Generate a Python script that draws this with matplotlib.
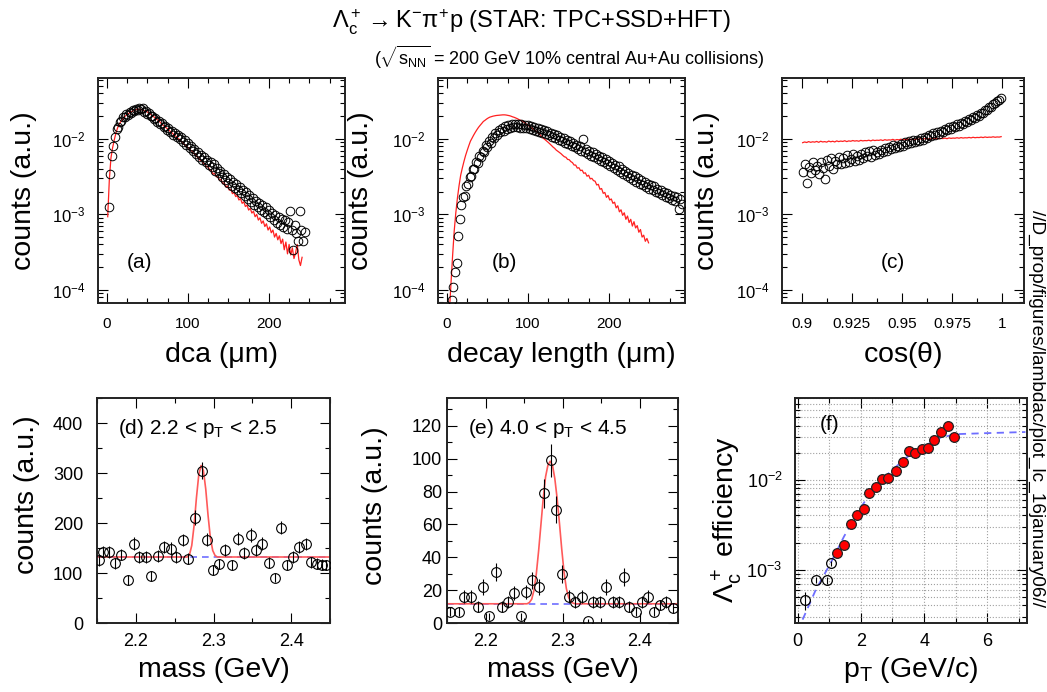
"""
Lambda_c -> K pi p (STAR HFT) 重绘：拓扑变量分布 (a-c)、不变质量峰 (d,e) 与效率 (f)。
"""
import matplotlib

matplotlib.use("Agg")
import matplotlib.pyplot as plt
import numpy as np
from matplotlib.ticker import (FuncFormatter, LogLocator, MultipleLocator,
                               NullFormatter)

# ---------------- 数据 ----------------
# (a) dca 分布, 2 um 一格, 单位 1e-3
DCA_X = np.arange(2, 246, 2)
DCA_DATA = [
    1.26, 3.4, 6.0, 8.1, 10.5, 13.6, 14.4, 16.8, 17.0, 19.4,
    19.6, 21.3, 20.9, 22.8, 22.3, 24.1, 23.3, 25.2, 24.4, 26.0,
    24.6, 25.3, 23.0, 23.6, 21.2, 21.9, 19.8, 20.2, 18.2, 18.9,
    16.9, 17.5, 15.7, 16.1, 14.4, 15.0, 13.2, 13.9, 12.4, 12.9,
    11.3, 12.1, 10.6, 11.3, 9.9, 10.5, 9.1, 9.6, 8.3, 8.9,
    7.6, 8.1, 6.9, 7.4, 6.3, 6.8, 5.8, 6.2, 5.3, 5.7,
    4.9, 5.3, 4.55, 4.95, 4.2, 4.6, 3.8, 4.15, 3.5, 3.75,
    3.15, 3.45, 2.85, 3.15, 2.6, 2.9, 2.4, 2.65, 2.25, 2.5,
    2.08, 2.32, 1.92, 2.12, 1.76, 1.96, 1.6, 1.8, 1.46, 1.64,
    1.35, 1.52, 1.25, 1.43, 1.16, 1.33, 1.06, 1.24, 1.0, 1.15,
    0.93, 1.05, 0.85, 0.98, 0.78, 0.92, 0.72, 0.86, 0.68, 0.83,
    0.64, 0.80, 1.12, 0.62, 0.34, 0.72, 0.56, 0.44, 1.1, 0.62,
    0.45, 0.58,
]
DCA_MC_X = np.arange(1, 243, 2)
DCA_MC = [
    0.93, 2.9, 5.6, 7.6, 9.6, 11.8, 13.8, 15.5, 16.8, 18.0,
    19.2, 20.2, 21.0, 21.8, 22.5, 23.1, 23.6, 24.1, 24.5, 24.8,
    24.7, 24.3, 23.8, 23.3, 23.0, 22.3, 21.5, 20.7, 19.9, 19.2,
    18.5, 17.7, 17.0, 16.0, 15.3, 14.7, 14.1, 13.5, 12.9, 12.3,
    11.9, 11.1, 10.9, 10.2, 10.0, 9.3, 9.1, 8.5, 8.3, 7.8,
    7.6, 7.1, 6.9, 6.4, 6.3, 5.8, 5.7, 5.2, 5.15, 4.75,
    4.7, 4.25, 4.3, 3.85, 3.85, 3.4, 3.5, 3.15, 3.15, 2.85,
    2.9, 2.55, 2.62, 2.3, 2.38, 2.1, 2.15, 1.88, 1.95, 1.72,
    1.78, 1.55, 1.62, 1.4, 1.47, 1.27, 1.33, 1.14, 1.2, 1.04,
    1.1, 0.93, 1.0, 0.84, 0.9, 0.76, 0.82, 0.69, 0.75, 0.62,
    0.68, 0.57, 0.62, 0.5, 0.56, 0.46, 0.52, 0.41, 0.47, 0.34,
    0.43, 0.3, 0.4, 0.29, 0.36, 0.26, 0.31, 0.4, 0.25, 0.21,
    0.27,
]

# (b) decay length 分布
DL_X = np.arange(6, 292, 2)
DL_DATA = [
    0.074, 0.11, 0.17, 0.23, 0.52, 0.88, 1.35, 1.7, 1.75, 2.4,
    2.5, 3.15, 3.2, 4.0, 4.0, 4.9, 4.8, 5.9, 5.7, 6.9,
    6.7, 8.3, 7.9, 9.4, 8.8, 10.7, 10.4, 12.1, 11.3, 13.0,
    12.3, 13.9, 12.8, 14.8, 13.6, 15.4, 14.1, 15.7, 14.2, 15.8,
    14.3, 15.8, 14.1, 15.6, 13.9, 15.4, 13.8, 15.2, 13.6, 14.8,
    13.2, 14.4, 12.8, 14.1, 12.5, 13.7, 12.0, 13.2, 11.6, 12.6,
    11.1, 12.1, 10.6, 11.6, 10.2, 11.1, 9.7, 10.6, 9.3, 10.2,
    8.9, 9.7, 8.5, 9.5, 8.1, 8.8, 7.7, 8.4, 7.3, 8.0,
    7.0, 10.1, 6.6, 7.3, 6.3, 6.9, 6.0, 6.6, 5.7, 6.3,
    5.4, 6.0, 5.15, 5.7, 4.9, 5.4, 4.65, 5.1, 4.4, 4.8,
    4.1, 4.55, 3.85, 4.35, 3.65, 4.0, 3.4, 3.8, 3.2, 3.55,
    3.0, 3.35, 2.85, 3.2, 2.7, 3.0, 2.55, 2.85, 2.45, 2.7,
    2.3, 2.55, 2.2, 2.45, 2.1, 2.35, 2.0, 2.2, 1.9, 2.1,
    1.8, 2.0, 1.72, 1.92, 1.65, 1.8, 1.55, 1.75, 1.5, 1.68,
    1.17, 1.58, 1.38,
]
DL_MC_X = np.arange(3, 251, 2)
DL_MC = [
    0.05, 0.12, 0.28, 0.6, 1.05, 1.65, 2.4, 3.3, 4.1, 5.0,
    6.0, 7.0, 8.1, 9.3, 10.2, 11.2, 12.2, 13.2, 14.2, 15.1,
    16.0, 17.0, 17.6, 18.3, 18.9, 19.4, 19.7, 20.0, 20.2, 20.4,
    20.5, 20.6, 20.7, 20.8, 20.8, 20.7, 20.5, 20.3, 20.0, 19.6,
    19.3, 18.9, 18.5, 18.0, 17.6, 17.2, 16.7, 16.1, 15.4, 14.9,
    14.4, 13.9, 13.4, 12.9, 12.5, 11.9, 11.3, 10.7, 10.2, 9.8,
    9.4, 9.0, 8.6, 8.2, 7.8, 7.5, 7.1, 6.85, 6.6, 6.35,
    6.05, 5.8, 5.7, 5.35, 5.3, 5.0, 4.85, 4.5, 4.5, 4.1,
    4.15, 3.8, 3.85, 3.5, 3.55, 3.2, 3.3, 2.95, 3.0, 2.8,
    2.75, 2.45, 2.5, 2.15, 2.2, 1.9, 1.95, 1.68, 1.78, 1.55,
    1.6, 1.4, 1.45, 1.22, 1.3, 1.08, 1.15, 0.97, 1.05, 0.86,
    0.95, 0.78, 0.86, 0.7, 0.8, 0.66, 0.71, 0.58, 0.63, 0.5,
    0.53, 0.44, 0.48, 0.42,
]

# (c) cos(theta) 分布, 0.001 一格
COS_X = np.arange(0.9005, 1.0, 0.001)
COS_DATA = [
    3.6, 4.6, 2.6, 4.2, 3.5, 4.9, 3.9, 4.4, 3.4, 5.0,
    4.1, 2.9, 5.2, 4.4, 5.6, 4.0, 5.1, 4.6, 5.8, 4.7,
    5.6, 4.8, 6.1, 5.0, 5.4, 6.3, 5.1, 5.9, 5.3, 6.4,
    5.6, 6.6, 6.0, 6.9, 5.8, 7.1, 6.2, 6.8, 6.4, 7.2,
    6.7, 7.6, 7.0, 7.9, 7.3, 8.3, 7.5, 8.1, 7.8, 8.6,
    8.1, 9.0, 8.5, 9.4, 8.8, 9.8, 9.0, 9.6, 9.4, 10.3,
    9.8, 10.7, 10.3, 11.2, 10.9, 11.8, 11.3, 12.3, 11.7, 12.9,
    12.2, 13.4, 13.0, 14.2, 13.6, 14.9, 14.3, 15.6, 15.0, 16.2,
    15.7, 17.2, 16.9, 18.3, 17.8, 19.5, 18.9, 20.7, 20.2, 21.8,
    22.0, 24.3, 24.1, 26.5, 26.8, 29.0, 29.8, 31.5, 33.0, 34.5,
]
COS_MC = [
    8.9, 9.1, 8.95, 9.2, 9.0, 9.15, 9.05, 9.25, 9.0, 9.3,
    9.1, 9.2, 9.05, 9.35, 9.15, 9.3, 9.1, 9.4, 9.2, 9.35,
    9.25, 9.45, 9.2, 9.4, 9.3, 9.5, 9.35, 9.45, 9.3, 9.55,
    9.4, 9.5, 9.45, 9.6, 9.4, 9.65, 9.5, 9.6, 9.55, 9.7,
    9.5, 9.75, 9.6, 9.7, 9.65, 9.85, 9.6, 9.8, 9.7, 9.9,
    9.75, 9.85, 9.8, 9.95, 9.75, 10.0, 9.85, 9.95, 9.9, 10.05,
    9.9, 10.1, 9.95, 10.05, 10.0, 10.15, 9.95, 10.2, 10.05, 10.15,
    10.1, 10.25, 10.05, 10.3, 10.15, 10.25, 10.2, 10.35, 10.2, 10.4,
    10.25, 10.35, 10.3, 10.45, 10.3, 10.5, 10.35, 10.45, 10.4, 10.55,
    10.4, 10.6, 10.45, 10.55, 10.5, 10.65, 10.5, 10.6, 10.55, 10.7,
]

# (d) 2.2 < pT < 2.5 不变质量
D_MASS = [2.1526, 2.158, 2.165, 2.173, 2.181, 2.190, 2.198, 2.204, 2.213, 2.220,
          2.229, 2.236, 2.245, 2.252, 2.261, 2.267, 2.276, 2.285, 2.292, 2.300,
          2.307, 2.315, 2.324, 2.332, 2.339, 2.348, 2.355, 2.363, 2.371, 2.379,
          2.387, 2.395, 2.403, 2.410, 2.419, 2.425, 2.433, 2.440, 2.445]
D_COUNTS = [126, 142, 142, 120, 137, 86, 159, 132, 132, 94,
            134, 152, 149, 132, 166, 129, 211, 305, 167, 106,
            118, 146, 116, 169, 140, 176, 146, 159, 121, 91,
            191, 116, 132, 152, 158, 122, 119, 117, 116]
D_ERR = [11.2, 11.9, 11.9, 11.0, 11.7, 9.3, 12.6, 11.5, 11.5, 9.7,
         11.6, 12.3, 12.2, 11.5, 12.9, 11.4, 14.5, 17.5, 12.9, 10.3,
         10.9, 12.1, 10.8, 13.0, 11.8, 13.3, 12.1, 12.6, 11.0, 9.5,
         13.8, 10.8, 11.5, 12.3, 12.6, 11.0, 10.9, 10.8, 10.8]
D_FIT_MASS = [2.15, 2.266, 2.269, 2.272, 2.275, 2.278, 2.281, 2.284, 2.287,
              2.290, 2.293, 2.296, 2.299, 2.302, 2.305, 2.45]
D_FIT = [132, 132, 136, 155, 195, 250, 296, 315, 305, 268, 215, 170, 145, 135, 132, 132]
D_BKG = 132

# (e) 4.0 < pT < 4.5 不变质量
E_MASS = [2.154, 2.165, 2.172, 2.181, 2.190, 2.197, 2.205, 2.214, 2.221, 2.229,
          2.237, 2.246, 2.253, 2.261, 2.269, 2.276, 2.285, 2.292, 2.300, 2.308,
          2.316, 2.325, 2.333, 2.340, 2.349, 2.357, 2.365, 2.373, 2.380, 2.387,
          2.395, 2.403, 2.411, 2.419, 2.427, 2.435, 2.444]
E_COUNTS = [7, 7, 16, 16, 10, 22, 4, 31, 10, 13,
            18.5, 4, 19, 26, 22, 79, 99, 69, 30, 16,
            13, 16, 1.4, 13, 13, 22, 13, 13, 28, 10,
            7, 13, 16, 7, 11, 13, 9]
E_ERR = [2.6, 2.6, 4.0, 4.0, 3.2, 4.7, 2.0, 5.6, 3.2, 3.6,
         4.3, 2.0, 4.4, 5.1, 4.7, 8.9, 9.9, 8.3, 5.5, 4.0,
         3.6, 4.0, 1.2, 3.6, 3.6, 4.7, 3.6, 3.6, 5.3, 3.2,
         2.6, 3.6, 4.0, 2.6, 3.3, 3.6, 3.0]
E_FIT_MASS = [2.15, 2.254, 2.257, 2.260, 2.263, 2.266, 2.269, 2.272, 2.275, 2.278,
              2.281, 2.284, 2.287, 2.290, 2.293, 2.296, 2.299, 2.302, 2.305, 2.308,
              2.311, 2.314, 2.317, 2.45]
E_FIT = [11.7, 11.7, 12.5, 14.5, 20, 30, 44, 60, 76, 89,
         96, 98.5, 96, 88, 76, 61, 45, 31, 21, 15.5,
         13, 12, 11.7, 11.7]
E_BKG = 11.7

# (f) 效率 vs pT
F_PT_OPEN = [0.24, 0.58, 0.92, 1.05]
F_EFF_OPEN = [4.6e-4, 7.7e-4, 7.6e-4, 1.17e-3]
F_ERR_OPEN = [1.0e-4, 0.6e-4, 0.6e-4, 0.8e-4]
F_PT = [1.26, 1.47, 1.68, 1.89, 2.11, 2.26, 2.49, 2.68, 2.87, 3.11,
        3.32, 3.51, 3.72, 3.92, 4.11, 4.32, 4.53, 4.74, 4.93]
F_EFF = [1.53e-3, 1.90e-3, 3.24e-3, 4.08e-3, 4.72e-3, 7.1e-3, 8.2e-3, 1.02e-2, 1.04e-2, 1.24e-2,
         1.57e-2, 2.06e-2, 1.98e-2, 2.19e-2, 2.25e-2, 2.74e-2, 3.39e-2, 3.92e-2, 2.95e-2]
F_FIT_PT = [0.16, 0.58, 1.05, 1.47, 1.89, 2.37, 2.89, 3.42, 3.95, 4.47, 5.0, 6.05, 7.2]
F_FIT = [2.78e-4, 6.0e-4, 1.19e-3, 2.34e-3, 4.27e-3, 7.76e-3, 1.19e-2, 1.74e-2,
         2.31e-2, 2.90e-2, 3.21e-2, 3.30e-2, 3.39e-2]

FONT = "Liberation Sans"
W, H = 1047, 692
RED = "#ff2020"
FIT_RED = "#ff5a5a"
BLUE = "#6e6eff"


def add_axes_px(fig, x0, y0, x1, y1):
    return fig.add_axes([x0 / W, 1 - y1 / H, (x1 - x0) / W, (y1 - y0) / H])


def root_style(ax, xsize, ysize, xpad, ypad):
    ax.tick_params(which="both", direction="in", top=True, right=True, width=0.8)
    ax.tick_params(which="major", length=7)
    ax.tick_params(which="minor", length=3.5)
    ax.tick_params(axis="x", labelsize=xsize, pad=xpad)
    ax.tick_params(axis="y", labelsize=ysize, pad=ypad)
    for s in ax.spines.values():
        s.set_linewidth(1.4)
        s.set_color("#222222")


def log_y(ax):
    ax.set_yscale("log")
    ax.yaxis.set_major_locator(LogLocator(base=10, numticks=10))
    ax.yaxis.set_minor_locator(LogLocator(base=10, subs=np.arange(2, 10), numticks=20))
    ax.yaxis.set_minor_formatter(NullFormatter())


def labels(ax, xlabel, ylabel, xy, yy, ylx):
    ax.set_xlabel(xlabel, fontsize=20.5)
    ax.set_ylabel(ylabel, fontsize=20.5)
    ax.xaxis.label.set_va("center")
    ax.yaxis.label.set_va("center")
    ax.xaxis.set_label_coords(0.5, xy)
    ax.yaxis.set_label_coords(ylx, yy)


def top_panel(ax, x, y, mc_x, mc_y, xlim, tag, tag_x):
    ax.plot(mc_x, np.asarray(mc_y) * 1e-3, color=RED, lw=0.9, zorder=2)
    ax.plot(x, np.asarray(y) * 1e-3, ls="none", marker="o", ms=6.2, mfc="none",
            mec="black", mew=0.7, zorder=3)
    log_y(ax)
    ax.set_xlim(*xlim)
    ax.set_ylim(6.7e-5, 0.064)
    root_style(ax, 11, 12, 10, 9)
    ax.text(tag_x, 0.178, tag, transform=ax.transAxes, fontsize=15,
            ha="center", va="center")


def mass_panel(ax, mass, counts, err, fit_m, fit_y, bkg, ylim, ymaj, ymin, tag, ypad):
    ax.axhline(bkg, color=BLUE, lw=1.2, ls=(0, (4, 3)), zorder=1)
    ax.plot(fit_m, fit_y, color=FIT_RED, lw=1.2, zorder=2)
    ax.errorbar(mass, counts, yerr=err, fmt="o", ms=7, mfc="none", mec="black",
                mew=0.8, ecolor="black", elinewidth=0.8, capsize=0, zorder=3)
    ax.set_xlim(2.15, 2.45)
    ax.set_ylim(*ylim)
    ax.xaxis.set_major_locator(MultipleLocator(0.1))
    ax.xaxis.set_minor_locator(MultipleLocator(0.05))
    ax.xaxis.set_major_formatter(FuncFormatter(lambda v, p: f"{v:g}"))
    ax.yaxis.set_major_locator(MultipleLocator(ymaj))
    ax.yaxis.set_minor_locator(MultipleLocator(ymin))
    root_style(ax, 13, 13, 7, ypad)
    ax.text(0.09, 0.865, tag, transform=ax.transAxes, fontsize=15, ha="left", va="center")


def main():
    plt.rcParams["font.family"] = [FONT, "DejaVu Sans"]
    plt.rcParams["mathtext.fontset"] = "custom"
    plt.rcParams["mathtext.rm"] = FONT
    plt.rcParams["mathtext.it"] = FONT
    plt.rcParams["mathtext.sf"] = FONT
    plt.rcParams["mathtext.bf"] = FONT + ":bold"

    fig = plt.figure(figsize=(W / 100, H / 100), dpi=100)

    # 顶部三幅：拓扑变量
    ax = add_axes_px(fig, 98, 78, 345, 303)
    top_panel(ax, DCA_X, DCA_DATA, DCA_MC_X, DCA_MC, (-11, 294), "(a)", 0.17)
    ax.xaxis.set_major_locator(MultipleLocator(100))
    ax.xaxis.set_minor_locator(MultipleLocator(25))
    labels(ax, "dca (μm)", "counts (a.u.)", -0.231, 0.5, -0.30)

    ax = add_axes_px(fig, 438, 78, 685, 303)
    top_panel(ax, DL_X, DL_DATA, DL_MC_X, DL_MC, (-11, 294), "(b)", 0.27)
    ax.xaxis.set_major_locator(MultipleLocator(100))
    ax.xaxis.set_minor_locator(MultipleLocator(25))
    labels(ax, "decay length (μm)", "counts (a.u.)", -0.231, 0.5, -0.31)

    ax = add_axes_px(fig, 782, 78, 1024, 303)
    top_panel(ax, COS_X, COS_DATA, COS_X, COS_MC, (0.8902, 1.0109), "(c)", 0.46)
    ax.xaxis.set_major_locator(MultipleLocator(0.025))
    ax.xaxis.set_minor_locator(MultipleLocator(0.0125))
    ax.xaxis.set_major_formatter(FuncFormatter(lambda v, p: f"{v:g}"))
    labels(ax, r"cos($\theta$)", "counts (a.u.)", -0.231, 0.5, -0.31)

    # 底部：不变质量与效率
    ax = add_axes_px(fig, 97, 398, 330, 623)
    mass_panel(ax, D_MASS, D_COUNTS, D_ERR, D_FIT_MASS, D_FIT, D_BKG, (0, 450), 100, 50,
               r"(d) 2.2 < p$_\mathrm{T}$ < 2.5", 10)
    labels(ax, "mass (GeV)", "counts (a.u.)", -0.21, 0.57, -0.30)

    ax = add_axes_px(fig, 447, 398, 678, 623)
    mass_panel(ax, E_MASS, E_COUNTS, E_ERR, E_FIT_MASS, E_FIT, E_BKG, (0, 137), 20, 10,
               r"(e) 4.0 < p$_\mathrm{T}$ < 4.5", 3.5)
    labels(ax, "mass (GeV)", "counts (a.u.)", -0.21, 0.52, -0.31)

    ax = add_axes_px(fig, 795, 398, 1027, 623)
    ax.set_axisbelow(True)
    ax.grid(True, which="both", ls=":", color="#a0a0a0", lw=0.8)
    ax.plot(F_FIT_PT, F_FIT, color=BLUE, lw=1.3, ls=(0, (4, 3)), zorder=1)
    ax.errorbar(F_PT_OPEN, F_EFF_OPEN, yerr=F_ERR_OPEN, fmt="o", ms=7, mfc="none",
                mec="black", mew=0.9, ecolor="black", elinewidth=0.8, capsize=0, zorder=3)
    ax.plot(F_PT, F_EFF, ls="none", marker="o", ms=7, mfc="red", mec="#222222",
            mew=0.9, zorder=4)
    log_y(ax)
    ax.set_xlim(-0.08, 7.25)
    ax.set_ylim(2.55e-4, 0.081)
    ax.xaxis.set_major_locator(MultipleLocator(2))
    ax.xaxis.set_minor_locator(MultipleLocator(1))
    root_style(ax, 13, 13, 7, 9)
    ax.text(0.15, 0.88, "(f)", transform=ax.transAxes, fontsize=15, ha="center", va="center")
    labels(ax, r"p$_\mathrm{T}$ (GeV/c)", r"$\Lambda_c^+$ efficiency", -0.21, 0.46, -0.295)

    # 标题与侧边路径
    fig.text(531 / W, 1 - 22 / H,
             r"$\Lambda_c^+ \rightarrow \mathrm{K}^{-}\pi^{+}\mathrm{p}$ (STAR: TPC+SSD+HFT)",
             ha="center", va="center", fontsize=17)
    fig.text(569 / W, 1 - 57 / H,
             r"($\sqrt{s_{\mathrm{NN}}}$ = 200 GeV 10% central Au+Au collisions)",
             ha="center", va="center", fontsize=13)
    fig.text(1037 / W, 1 - 408 / H, "//D_prop/figures/lambdac/plot_lc_16january06//",
             rotation=270, ha="center", va="center", fontsize=13.7)

    fig.savefig("out.png", dpi=100)
    plt.close(fig)


if __name__ == "__main__":
    main()
